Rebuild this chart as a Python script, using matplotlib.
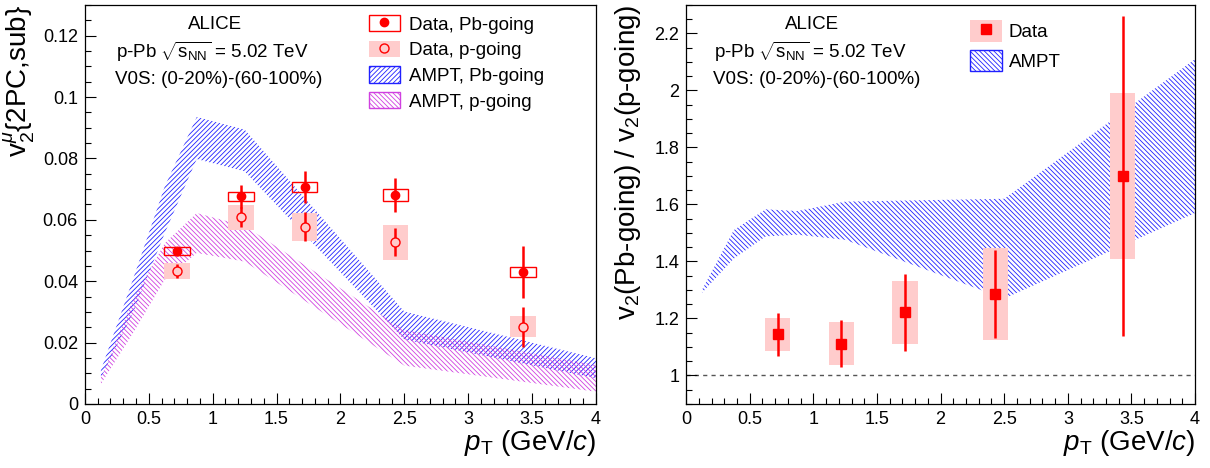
import matplotlib
matplotlib.use("Agg")
import matplotlib.pyplot as plt
from matplotlib.patches import Rectangle
from matplotlib.lines import Line2D
from matplotlib.ticker import MultipleLocator, FormatStrFormatter

plt.rcParams['font.family'] = ['Liberation Sans', 'DejaVu Sans']
plt.rcParams['mathtext.fontset'] = 'custom'
plt.rcParams['mathtext.rm'] = 'Liberation Sans'
plt.rcParams['mathtext.it'] = 'Liberation Sans:italic'
plt.rcParams['mathtext.bf'] = 'Liberation Sans:bold'
plt.rcParams['hatch.linewidth'] = 0.6

pt = [0.72, 1.22, 1.72, 2.43, 3.43]
v2_pb = [0.0497, 0.0676, 0.0707, 0.0680, 0.0431]
v2_pb_stat = [0.0016, 0.0036, 0.0052, 0.0055, 0.0085]
v2_pb_syst = [0.0013, 0.0014, 0.0015, 0.0019, 0.0016]
v2_p = [0.0434, 0.0608, 0.0577, 0.0527, 0.0252]
v2_p_stat = [0.0022, 0.0033, 0.0047, 0.0046, 0.0065]
v2_p_syst = [0.0026, 0.0040, 0.0046, 0.0057, 0.0035]

ratio = [1.144, 1.112, 1.221, 1.286, 1.700]
ratio_stat = [0.075, 0.082, 0.136, 0.154, 0.56]
ratio_syst = [0.057, 0.076, 0.111, 0.161, 0.29]

# AMPT bands
ampt_pt = [0.125, 0.375, 0.625, 0.875, 1.25, 2.5, 4.0]
ampt_pb_lo = [0.0085, 0.0296, 0.0557, 0.0798, 0.0758, 0.0210, 0.0084]
ampt_pb_hi = [0.0110, 0.0405, 0.0709, 0.0935, 0.0894, 0.0301, 0.0149]
ampt_p_lo = [0.0065, 0.0230, 0.0405, 0.0492, 0.0464, 0.0125, 0.0040]
ampt_p_hi = [0.0085, 0.0339, 0.0524, 0.0622, 0.0580, 0.0241, 0.0127]
ampt_ratio_lo = [1.29, 1.41, 1.488, 1.494, 1.476, 1.27, 1.57]
ampt_ratio_hi = [1.30, 1.51, 1.583, 1.577, 1.610, 1.62, 2.11]

RED = '#ff0000'
PINK = '#ffcccc'
BLUE = '#2020ff'
MAG = '#d040e0'
HATCH_PB = '/' * 7
HATCH_P = '\\' * 7
BOXW = 0.1
FS = 13.5
TITLE_FS = 20

fig = plt.figure(figsize=(12.1, 4.68), dpi=100)
ax1 = fig.add_axes([0.0702, 0.1368, 0.4223, 0.8526])
ax2 = fig.add_axes([0.567, 0.1368, 0.4207, 0.8526])


def style_axis(ax, ymaj, ymin, yfmt):
    ax.set_xlim(0, 4)
    ax.xaxis.set_major_locator(MultipleLocator(0.5))
    ax.xaxis.set_minor_locator(MultipleLocator(0.1))
    ax.yaxis.set_major_locator(MultipleLocator(ymaj))
    ax.yaxis.set_minor_locator(MultipleLocator(ymin))
    ax.xaxis.set_major_formatter(FormatStrFormatter('%g'))
    ax.yaxis.set_major_formatter(FormatStrFormatter(yfmt))
    ax.tick_params(which='both', direction='in', top=False, right=False,
                   labelsize=13, width=0.8)
    ax.tick_params(which='major', length=8, pad=5)
    ax.tick_params(which='minor', length=4)
    for s in ax.spines.values():
        s.set_linewidth(0.9)
    ax.set_xlabel(r'$p_{\mathrm{T}}$ (GeV/$c$)', fontsize=TITLE_FS,
                  loc='right', labelpad=0)


# ---- left panel
ax1.fill_between(ampt_pt, ampt_pb_lo, ampt_pb_hi, facecolor='none',
                 edgecolor=BLUE, hatch=HATCH_PB, linewidth=0, zorder=1)
ax1.fill_between(ampt_pt, ampt_p_lo, ampt_p_hi, facecolor='none',
                 edgecolor=MAG, hatch=HATCH_P, linewidth=0, zorder=1)

for x, y, s in zip(pt, v2_p, v2_p_syst):
    ax1.add_patch(Rectangle((x - BOXW, y - s), 2 * BOXW, 2 * s,
                            facecolor=PINK, edgecolor='none', zorder=2))
for x, y, s in zip(pt, v2_pb, v2_pb_syst):
    ax1.add_patch(Rectangle((x - BOXW, y - s), 2 * BOXW, 2 * s,
                            facecolor='none', edgecolor=RED, lw=1.0, zorder=3))

ax1.errorbar(pt, v2_pb, yerr=v2_pb_stat, fmt='o', color=RED, ms=6,
             elinewidth=1.8, capsize=0, zorder=5)
ax1.errorbar(pt, v2_p, yerr=v2_p_stat, fmt='o', color=RED, mfc=PINK,
             mec=RED, mew=1.0, ms=6.5, elinewidth=1.8, capsize=0, zorder=5)

ax1.set_ylim(0, 0.130)
style_axis(ax1, 0.02, 0.005, '%g')
ax1.set_ylabel(r'v$_{2}^{\mu}${2PC,sub}', fontsize=TITLE_FS, loc='top',
               labelpad=4)

ax1.text(0.254, 0.950, 'ALICE', transform=ax1.transAxes, fontsize=FS,
         ha='center', va='center')
ax1.text(0.25, 0.882, r'p-Pb $\sqrt{\mathrm{s}_{\mathrm{NN}}}$ = 5.02 TeV',
         transform=ax1.transAxes, fontsize=FS, ha='center', va='center')
ax1.text(0.262, 0.812, 'V0S: (0-20%)-(60-100%)', transform=ax1.transAxes,
         fontsize=FS, ha='center', va='center')

h1 = (Rectangle((0, 0), 1, 1, facecolor='none', edgecolor=RED, lw=1.0),
      Line2D([], [], marker='o', color=RED, ls='none', ms=6))
h2 = (Rectangle((0, 0), 1, 1, facecolor=PINK, edgecolor='none'),
      Line2D([], [], marker='o', mfc=PINK, mec=RED, ls='none', ms=6.5))
h3 = Rectangle((0, 0), 1, 1, facecolor='none', edgecolor=BLUE,
               hatch=HATCH_PB, lw=1.0)
h4 = Rectangle((0, 0), 1, 1, facecolor='none', edgecolor=MAG,
               hatch=HATCH_P, lw=1.0)
ax1.legend([h1, h2, h3, h4],
           ['Data, Pb-going', 'Data, p-going', 'AMPT, Pb-going', 'AMPT, p-going'],
           loc='upper left', bbox_to_anchor=(0.555, 0.975), frameon=False,
           fontsize=FS, borderpad=0, borderaxespad=0, handlelength=1.7,
           handleheight=0.96, handletextpad=0.45, labelspacing=0.38)

# ---- right panel
ax2.fill_between(ampt_pt, ampt_ratio_lo, ampt_ratio_hi, facecolor='none',
                 edgecolor=BLUE, hatch=HATCH_P, linewidth=0, zorder=1)
ax2.axhline(1.0, color='#555555', ls=(0, (3, 3)), lw=1.0, zorder=1)
for x, y, s in zip(pt, ratio, ratio_syst):
    ax2.add_patch(Rectangle((x - BOXW, y - s), 2 * BOXW, 2 * s,
                            facecolor=PINK, edgecolor='none', zorder=2))
ax2.errorbar(pt, ratio, yerr=ratio_stat, fmt='s', color=RED, ms=6.5,
             elinewidth=1.8, capsize=0, zorder=5)

ax2.set_ylim(0.9, 2.3)
style_axis(ax2, 0.2, 0.05, '%g')
ax2.set_ylabel('v$_{2}$(Pb-going) / v$_{2}$(p-going)', fontsize=TITLE_FS,
               loc='top', labelpad=8)

ax2.text(0.2475, 0.950, 'ALICE', transform=ax2.transAxes, fontsize=FS,
         ha='center', va='center')
ax2.text(0.245, 0.882, r'p-Pb $\sqrt{\mathrm{s}_{\mathrm{NN}}}$ = 5.02 TeV',
         transform=ax2.transAxes, fontsize=FS, ha='center', va='center')
ax2.text(0.256, 0.812, 'V0S: (0-20%)-(60-100%)', transform=ax2.transAxes,
         fontsize=FS, ha='center', va='center')

g1 = (Rectangle((0, 0), 1, 1, facecolor=PINK, edgecolor='none'),
      Line2D([], [], marker='s', color=RED, ls='none', ms=6.5))
g2 = Rectangle((0, 0), 1, 1, facecolor='none', edgecolor=BLUE,
               hatch=HATCH_P, lw=1.0)
ax2.legend([g1, g2], ['Data', 'AMPT'], loc='upper left',
           bbox_to_anchor=(0.558, 0.962), frameon=False, fontsize=FS,
           borderpad=0, borderaxespad=0, handlelength=1.7, handleheight=1.39,
           handletextpad=0.35, labelspacing=0.43)

fig.savefig('out.png', dpi=100)
